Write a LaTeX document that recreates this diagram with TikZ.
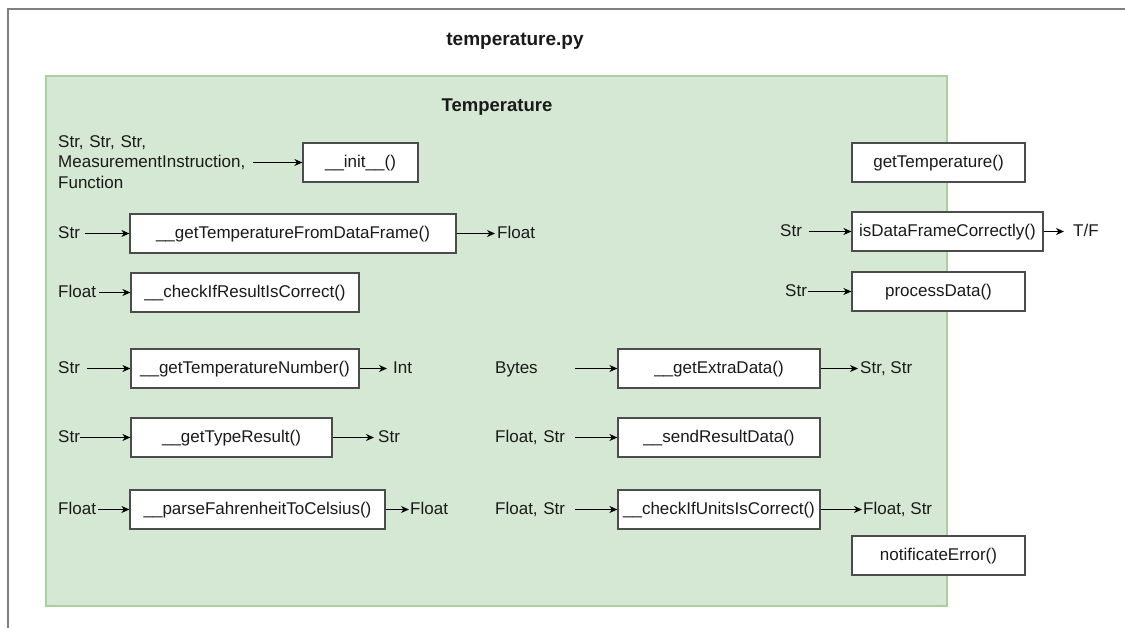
\documentclass[tikz,border=0pt]{standalone}
\usepackage{fontspec}
\setmainfont{Liberation Sans}
\usetikzlibrary{arrows.meta}
\definecolor{classfill}{HTML}{D5E8D4}
\definecolor{classline}{HTML}{A9D19E}
\definecolor{framegray}{HTML}{808080}
\definecolor{ink}{HTML}{1A1A1A}
\tikzset{
  oneline/.style={text height=13pt, text depth=3pt},
  fnbox/.style={draw=black!70, fill=white, line width=1.2pt, inner sep=0pt,
    minimum height=39pt, text=ink, oneline, font=\fontsize{17}{20.5}\selectfont},
  inlbl/.style={anchor=west, inner sep=0pt, align=left, text=ink,
    font=\fontsize{17}{20.5}\selectfont},
  outlbl/.style={anchor=west, inner ysep=0pt, inner xsep=2pt, text=ink, oneline,
    font=\fontsize{17}{20.5}\selectfont},
  link/.style={line width=1.1pt, draw=black,
    -{Stealth[length=8pt,width=7pt,inset=2.5pt]}},
}
\begin{document}
\begin{tikzpicture}[x=1pt,y=-1pt]
\useasboundingbox (0,0) rectangle (1125,628);
% file frame (only its left and top sides fall inside the page)
\draw[framegray, line width=2pt] (8,640) -- (8,9) -- (1140,9);
\node[font=\bfseries\fontsize{19}{22}\selectfont, text=ink, text height=14pt, text depth=4pt] (file) at (515,41) {temperature.py};
% class body
\fill[classfill] (46,76) rectangle (947,606);
\draw[classline, line width=1.5pt] (46,76) rectangle (947,606);
\node[font=\bfseries\fontsize{18.5}{22}\selectfont, text=ink, text height=13.5pt, text depth=1pt] (cls) at (497,105.5) {Temperature};

% methods
\node[fnbox, minimum width=115pt] (init) at (360.5,162.5) {\_\_init\_\_()};
\node[fnbox, minimum width=173pt] (gett) at (938.5,162.5) {getTemperature()};
\node[fnbox, minimum width=326pt] (fromdf) at (293,233.5) {\_\_getTemperatureFromDataFrame()};
\node[fnbox, minimum width=191pt] (isdf) at (947.5,231.5) {isDataFrameCorrectly()};
\node[fnbox, minimum width=228pt] (chkres) at (245,292.5) {\_\_checkIfResultIsCorrect()};
\node[fnbox, minimum width=173pt] (proc) at (938.5,291.5) {processData()};
\node[fnbox, minimum width=228pt] (tnum) at (245,368.5) {\_\_getTemperatureNumber()};
\node[fnbox, minimum width=202pt] (extra) at (719,368.5) {\_\_getExtraData()};
\node[fnbox, minimum width=201pt] (tres) at (231.5,437.5) {\_\_getTypeResult()};
\node[fnbox, minimum width=202pt] (send) at (719,437.5) {\_\_sendResultData()};
\node[fnbox, minimum width=255pt] (parse) at (257.5,509.5) {\_\_parseFahrenheitToCelsius()};
\node[fnbox, minimum width=202pt] (units) at (719,509.5) {\_\_checkIfUnitsIsCorrect()};
\node[fnbox, minimum width=173pt] (notif) at (938.5,555.5) {notificateError()};

% parameters
\node[inlbl, text width=195pt] (in1) at (58,162) {Str, Str, Str,\\MeasurementInstruction,\\Function};
\node[inlbl, oneline, text width=27pt] (in2) at (58,233.5) {Str};
\node[inlbl, oneline, text width=41pt] (in3) at (58,292.5) {Float};
\node[inlbl, oneline, text width=29pt] (in4) at (58,368.5) {Str};
\node[inlbl, oneline, text width=22pt] (in5) at (58,437.5) {Str};
\node[inlbl, oneline, text width=40pt] (in6) at (58,509.5) {Float};
\node[inlbl, oneline, text width=29pt] (in7) at (780,231.5) {Str};
\node[inlbl, oneline, text width=23pt] (in8) at (785,291.5) {Str};
\node[inlbl, oneline, text width=80pt] (in9) at (495,368.5) {Bytes};
\node[inlbl, oneline, text width=80pt] (in10) at (495,437.5) {Float, Str};
\node[inlbl, oneline, text width=80pt] (in11) at (495,509.5) {Float, Str};

% return values
\node[outlbl] (out2) at (495,233.5) {Float};
\node[outlbl, inner xsep=0pt, xshift=-9pt] (outtf) at (1073,231.5) {\hspace*{9pt}T/F};
\node[outlbl, inner xsep=0pt] (out4) at (387,368.5) {\hspace*{6pt}Int};
\node[outlbl, inner xsep=0pt] (out5) at (374,437.5) {\hspace*{4pt}Str};
\node[outlbl, inner xsep=0pt] (out6) at (409,509.5) {\hspace*{1pt}Float};
\node[outlbl, inner xsep=0pt] (out9) at (858,368.5) {\hspace*{2pt}Str, Str};
\node[outlbl, inner xsep=0pt] (out11) at (862,509.5) {\hspace*{1pt}Float, Str};

% calls
\draw[link] (in1.east |- init.west) -- (init.west);
\draw[link] (in2) -- (fromdf);
\draw[link] (fromdf) -- (out2);
\draw[link] (in3) -- (chkres);
\draw[link] (in4) -- (tnum);
\draw[link] (tnum) -- (out4);
\draw[link] (in5) -- (tres);
\draw[link] (tres) -- (out5);
\draw[link] (in6) -- (parse);
\draw[link] (parse) -- (out6);
\draw[link] (in7) -- (isdf);
\draw[link] (isdf) -- (outtf);
\draw[link] (in8) -- (proc);
\draw[link] (in9) -- (extra);
\draw[link] (extra) -- (out9);
\draw[link] (in10) -- (send);
\draw[link] (in11) -- (units);
\draw[link] (units) -- (out11);
\end{tikzpicture}
\end{document}
